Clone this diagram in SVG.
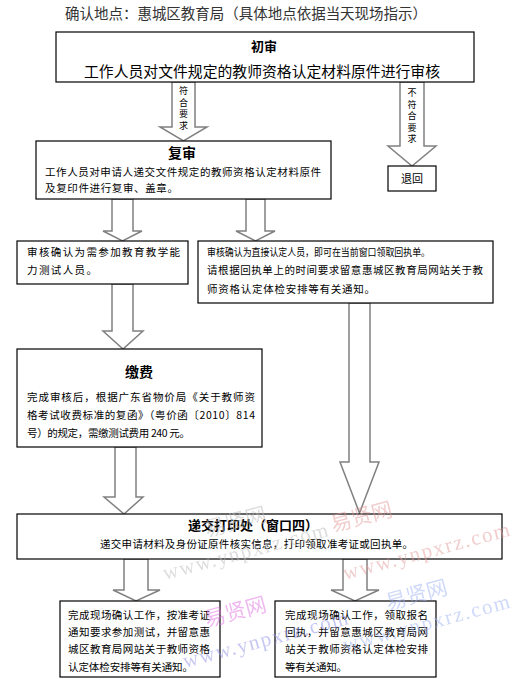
<svg xmlns="http://www.w3.org/2000/svg" width="529" height="685" viewBox="0 0 529 685">
<style>
.bg{fill:#ffffff}
.box{fill:#ffffff;stroke:#000000;stroke-width:1.2}
.arr{fill:#ffffff;stroke:#808080;stroke-width:1.5;stroke-linejoin:miter}
.t{font-family:"Noto Sans CJK SC","Noto Sans",sans-serif;fill:#000000}
.s{font-size:10.5px}
.b{font-weight:bold}
.v{font-size:9px;text-anchor:middle}
.wm{font-family:"Liberation Serif",serif;font-size:21px}
.wc{font-family:"Noto Sans CJK SC",serif;font-size:21px}
</style>
<rect class="bg" x="0" y="0" width="529" height="685"/>
<text class="t" x="65" y="19" font-size="14.5" fill="#333333" style="fill:#333333" textLength="362" lengthAdjust="spacingAndGlyphs">确认地点：惠城区教育局（具体地点依据当天现场指示）</text>

<g id="connectors">
  <path class="arr" d="M172 82 L195 82 L195 127 L207 127 L183.5 141 L160 127 L172 127 Z"/>
  <text class="t v" x="183.5" y="94">符</text>
  <text class="t v" x="183.5" y="105.5">合</text>
  <text class="t v" x="183.5" y="117">要</text>
  <text class="t v" x="183.5" y="128.5">求</text>
  <path class="arr" d="M400 82 L424 82 L424 146 L436 146 L412 166 L388 146 L400 146 Z"/>
  <text class="t v" x="412" y="96">不</text>
  <text class="t v" x="412" y="107.5">符</text>
  <text class="t v" x="412" y="119">合</text>
  <text class="t v" x="412" y="130.5">要</text>
  <text class="t v" x="412" y="142">求</text>
  <path class="arr" d="M112 199 L133 199 L133 231 L142 231 L122.5 241 L103 231 L112 231 Z"/>
  <path class="arr" d="M246 199 L265 199 L265 231 L275 231 L255.5 241 L236 231 L246 231 Z"/>
  <path class="arr" d="M112 284 L133 284 L133 331 L143 331 L123 349 L103 331 L112 331 Z"/>
  <path class="arr" d="M349 303 L370 303 L370 462 L379 462 L359.5 513 L340 462 L349 462 Z"/>
  <path class="arr" d="M115 447 L136 447 L136 497 L143 497 L124 514 L104 497 L115 497 Z"/>
  <path class="arr" d="M124 559 L148 559 L148 590 L160 590 L136 601 L113 590 L124 590 Z"/>
  <path class="arr" d="M343 559 L367 559 L367 590 L379 590 L355 601 L331 590 L343 590 Z"/>
</g>

<g id="node-chushen">
  <rect class="box" x="56" y="32" width="418" height="50"/>
  <text class="t b" x="264" y="51" font-size="13" text-anchor="middle">初审</text>
  <text class="t" x="84" y="77" font-size="15" textLength="356" lengthAdjust="spacingAndGlyphs">工作人员对文件规定的教师资格认定材料原件进行审核</text>
</g>

<g id="node-tuihui">
  <rect class="box" x="388" y="166" width="48" height="25"/>
  <text class="t" x="412" y="183" font-size="11" text-anchor="middle">退回</text>
</g>

<g id="node-fushen">
  <rect class="box" x="36" y="141" width="295" height="58"/>
  <text class="t b" x="182" y="158" font-size="14" text-anchor="middle">复审</text>
  <text class="t s" x="45" y="176" textLength="276" lengthAdjust="spacing">工作人员对申请人递交文件规定的教师资格认定材料原件</text>
  <text class="t s" x="45" y="192" textLength="133" lengthAdjust="spacing">及复印件进行复审、盖章。</text>
</g>

<g id="node-ceshi">
  <rect class="box" x="17" y="241" width="171" height="43"/>
  <text class="t s" x="27" y="256" textLength="153" lengthAdjust="spacing">审核确认为需参加教育教学能</text>
  <text class="t s" x="27" y="274" textLength="70" lengthAdjust="spacing">力测试人员。</text>
</g>

<g id="node-zhijie">
  <rect class="box" x="198" y="241" width="295" height="62"/>
  <text class="t" x="207" y="256" font-size="10" textLength="223" lengthAdjust="spacingAndGlyphs">审核确认为直接认定人员，即可在当前窗口领取回执单。</text>
  <text class="t s" x="207" y="274" textLength="276" lengthAdjust="spacing">请根据回执单上的时间要求留意惠城区教育局网站关于教</text>
  <text class="t s" x="207" y="293" textLength="168" lengthAdjust="spacing">师资格认定体检安排等有关通知。</text>
</g>

<g id="node-jiaofei">
  <rect class="box" x="17" y="349" width="245" height="98"/>
  <text class="t b" x="139" y="377" font-size="14" text-anchor="middle">缴费</text>
  <text class="t s" x="27" y="401" textLength="228" lengthAdjust="spacing">完成审核后，根据广东省物价局《关于教师资</text>
  <text class="t s" x="27" y="419" textLength="228" lengthAdjust="spacing">格考试收费标准的复函》（粤价函〔2010〕814</text>
  <text class="t s" x="27" y="437" textLength="163" lengthAdjust="spacing">号）的规定，需缴测试费用 240 元。</text>
</g>

<g id="node-dijiao">
  <rect class="box" x="17" y="514" width="485" height="45"/>
  <text class="t b" x="253" y="530" font-size="13" text-anchor="middle">递交打印处（窗口四）</text>
  <text class="t s" x="100" y="548" textLength="313" lengthAdjust="spacing">递交申请材料及身份证原件核实信息，打印领取准考证或回执单。</text>
</g>

<g id="node-wancheng1">
  <rect class="box" x="60" y="601" width="160" height="76"/>
  <text class="t s" x="68" y="619" textLength="142" lengthAdjust="spacing">完成现场确认工作，按准考证</text>
  <text class="t s" x="68" y="636" textLength="142" lengthAdjust="spacing">通知要求参加测试，并留意惠</text>
  <text class="t s" x="68" y="653" textLength="142" lengthAdjust="spacing">城区教育局网站关于教师资格</text>
  <text class="t s" x="68" y="671" textLength="125" lengthAdjust="spacing">认定体检安排等有关通知。</text>
</g>

<g id="node-wancheng2">
  <rect class="box" x="275" y="601" width="161" height="76"/>
  <text class="t s" x="285" y="619" textLength="143" lengthAdjust="spacing">完成现场确认工作，领取报名</text>
  <text class="t s" x="285" y="636" textLength="143" lengthAdjust="spacing">回执，并留意惠城区教育局网</text>
  <text class="t s" x="285" y="653" textLength="143" lengthAdjust="spacing">站关于教师资格认定体检安排</text>
  <text class="t s" x="285" y="671" textLength="62" lengthAdjust="spacing">等有关通知。</text>
</g>

<g id="watermarks" opacity="0.5">
  <text class="wc" transform="translate(207,537) rotate(-15)" fill="#bbbbbb">易贤网</text>
  <text class="wm" transform="translate(165,580) rotate(-15)" fill="#bbbbbb" textLength="170">www.ynpxrz.com</text>
  <text class="wc" transform="translate(333,532) rotate(-15)" fill="#e39a9a">易贤网</text>
  <text class="wm" transform="translate(345,580) rotate(-15)" fill="#e39a9a" textLength="172">www.ynpxrz.com</text>
  <text class="wc" transform="translate(207,627) rotate(-15)" fill="#e070e0">易贤网</text>
  <text class="wm" transform="translate(185,668) rotate(-15)" fill="#8f8fe6" textLength="170">www.ynpxrz.com</text>
  <text class="wc" transform="translate(388,610) rotate(-15)" fill="#9fb2f2">易贤网</text>
  <text class="wm" transform="translate(345,652) rotate(-15)" fill="#9fb2f2" textLength="172">www.ynpxrz.com</text>
</g>
</svg>
